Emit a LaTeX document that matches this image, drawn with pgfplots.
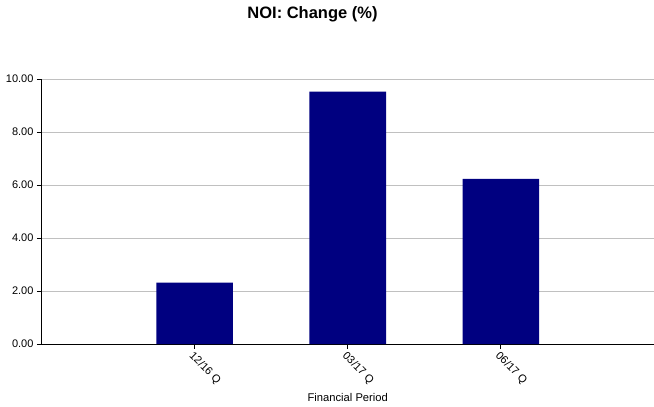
\documentclass[border=0pt]{standalone}
\usepackage{fontspec}
\setmainfont{Liberation Sans}
\usepackage{pgfplots}
\pgfplotsset{compat=1.18}
\definecolor{barblue}{HTML}{000080}
\definecolor{gridgray}{HTML}{C0C0C0}
\begin{document}
\begin{tikzpicture}
\useasboundingbox (-41.5bp,-63bp) rectangle (612.5bp,344bp);
\begin{axis}[
  scale only axis, width=612.5bp, height=265bp,
  at={(0,0)}, anchor=south west,
  xmin=-1, xmax=3, ymin=0, ymax=10,
  axis x line=bottom, axis y line=left,
  axis line style={-, black, line width=1bp},
  xtick={0,1,2}, xticklabels={12/16 Q,03/17 Q,06/17 Q},
  ytick={0,2,4,6,8,10},
  ymajorgrids, grid style={gridgray, line width=0.8bp},
  tick align=outside, major tick length=4.5bp,
  tick style={black, line width=0.8bp},
  tick label style={font=\fontsize{11bp}{12bp}\selectfont},
  y tick label style={/pgf/number format/.cd, fixed, fixed zerofill, precision=2, assume math mode=true},
  xticklabel style={rotate=-45, anchor=north west, inner sep=1.5bp},
  xlabel={Financial Period},
  xlabel style={at={(axis description cs:0.5,0)}, anchor=center, yshift=-53bp, font=\fontsize{11.2bp}{12bp}\selectfont},
]
\addplot[ybar, bar width=0.5, fill=barblue, draw=none] coordinates {(0,2.32) (1,9.52) (2,6.23)};
\end{axis}
\node[font=\bfseries\fontsize{16.5bp}{19bp}\selectfont] at (271bp,330bp) {NOI: Change (\%)};
\end{tikzpicture}
\end{document}
